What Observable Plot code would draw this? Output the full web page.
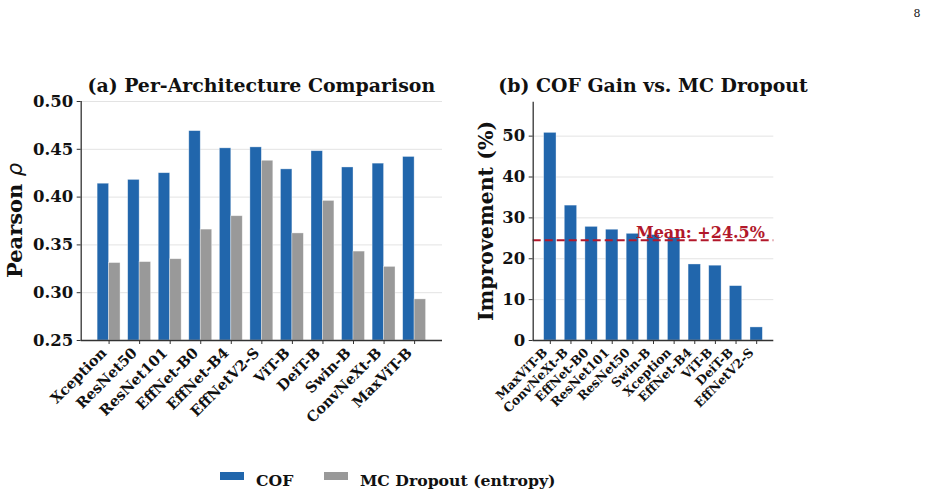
<!DOCTYPE html>
<html>
<head>
<meta charset="utf-8">
<script src="https://cdn.jsdelivr.net/npm/d3@7"></script>
<script src="https://cdn.jsdelivr.net/npm/@observablehq/plot@0.6"></script>
<style>
  body { margin: 0; background: #fff; }
  #page { position: relative; width: 930px; height: 496px; overflow: hidden; background: #fff; }
  #page > svg { position: absolute; top: 0; }
  #overlay { left: 0; pointer-events: none; }
</style>
</head>
<body>
<div id="page"></div>
<script>
// Per-architecture Pearson correlation for the two uncertainty scores
const architectures = ["Xception", "ResNet50", "ResNet101", "EffNet-B0", "EffNet-B4", "EffNetV2-S",
                       "ViT-B", "DeiT-B", "Swin-B", "ConvNeXt-B", "MaxViT-B"];
const cofPearson = [0.414, 0.418, 0.425, 0.469, 0.451, 0.452, 0.429, 0.448, 0.431, 0.435, 0.442];
const mcPearson  = [0.331, 0.332, 0.335, 0.366, 0.380, 0.438, 0.362, 0.396, 0.343, 0.327, 0.293];

// Relative gain of COF over MC Dropout, sorted from largest to smallest
const gainOrder = ["MaxViT-B", "ConvNeXt-B", "EffNet-B0", "ResNet101", "ResNet50", "Swin-B",
                   "Xception", "EffNet-B4", "ViT-B", "DeiT-B", "EffNetV2-S"];
const gainPct = [50.8, 33.0, 27.8, 27.1, 26.1, 25.8, 25.2, 18.6, 18.3, 13.3, 3.2];
const meanGain = 24.5;

const pearsonTicks = [0.25, 0.30, 0.35, 0.40, 0.45, 0.50];
const gainTicks = [0, 10, 20, 30, 40, 50];

const BLUE = "#2166ac";
const GRAY = "#999999";
const RED = "#b2182b";
const INK = "#111";
const SPINE = "#333";
const FONT = "'DejaVu Serif', serif";

const page = document.getElementById("page");

// Rotated category labels: ticks and text drawn as two axis marks so the
// text can be nudged without moving the tick lines.
function categoryAxis(names, fontSize, dx, dy) {
  const ticks = d3.range(names.length);
  return [
    Plot.axisX({ticks, tickSize: 4, text: null, stroke: SPINE, label: null}),
    Plot.axisX({ticks, tickFormat: i => names[i], tickRotate: -45, tickSize: 0, tickPadding: 6,
      fontSize, dx, dy, label: null})
  ];
}

// ---- (a) grouped bars ----
const rowsA = architectures.map((name, i) => ({i, name, cof: cofPearson[i], mc: mcPearson[i]}));
const halfW = 0.375;
const plotA = Plot.plot({
  width: 460, height: 450,
  marginLeft: 80.7, marginRight: 18, marginTop: 101, marginBottom: 110,
  style: {fontFamily: FONT, fontWeight: "bold", background: "transparent", overflow: "visible", color: INK},
  x: {domain: [-0.9125, 10.9125], label: null},
  y: {domain: [0.25, 0.50], label: null},
  marks: [
    Plot.gridY(pearsonTicks.slice(1), {stroke: "#e3e3e3", strokeOpacity: 1, strokeWidth: 1}),
    Plot.rectY(rowsA, {x1: d => d.i - halfW, x2: d => d.i, y1: 0.25, y2: "cof",
      fill: BLUE, stroke: "#fff", strokeOpacity: 0.5, strokeWidth: 0.7}),
    Plot.rectY(rowsA, {x1: d => d.i, x2: d => d.i + halfW, y1: 0.25, y2: "mc",
      fill: GRAY, stroke: "#fff", strokeOpacity: 0.5, strokeWidth: 0.7}),
    Plot.ruleX([-0.9125], {stroke: SPINE, strokeWidth: 1.3}),
    Plot.ruleY([0.25], {stroke: SPINE, strokeWidth: 1.3}),
    Plot.axisY({ticks: pearsonTicks, tickFormat: d3.format(".2f"), fontSize: 16.5,
      tickSize: 4, tickPadding: 4, stroke: SPINE, label: null}),
    ...categoryAxis(architectures, 14.5, -5, 4)
  ]
});
plotA.style.left = "0px";
page.appendChild(plotA);

// ---- (b) sorted gain bars ----
const rowsB = gainOrder.map((name, i) => ({i, name, gain: gainPct[i]}));
const plotB = Plot.plot({
  width: 470, height: 450,
  marginLeft: 72.7, marginRight: 156.7, marginTop: 101.7, marginBottom: 110,
  style: {fontFamily: FONT, fontWeight: "bold", background: "transparent", overflow: "visible", color: INK},
  x: {domain: [-0.83, 10.83], label: null},
  y: {domain: [0, 58.3], label: null},
  marks: [
    Plot.gridY(gainTicks.slice(1), {stroke: "#e3e3e3", strokeOpacity: 1, strokeWidth: 1}),
    Plot.rectY(rowsB, {x1: d => d.i - 0.3, x2: d => d.i + 0.3, y1: 0, y2: "gain",
      fill: BLUE, stroke: "#fff", strokeOpacity: 0.5, strokeWidth: 0.7}),
    Plot.ruleY([meanGain], {stroke: RED, strokeWidth: 2, strokeDasharray: "8,4"}),
    Plot.text([meanGain], {x: 10.4, y: d => d, text: d => `Mean: +${d}%`, textAnchor: "end",
      lineAnchor: "bottom", dy: -2, fill: RED, fontSize: 16, fontWeight: "bold"}),
    Plot.ruleX([-0.83], {stroke: SPINE, strokeWidth: 1.3}),
    Plot.ruleY([0], {stroke: SPINE, strokeWidth: 1.3}),
    Plot.axisY({ticks: gainTicks, fontSize: 16.5, tickSize: 4, tickPadding: 4, stroke: SPINE, label: null}),
    ...categoryAxis(gainOrder, 12.5, -5, 4)
  ]
});
plotB.style.left = "460px";
page.appendChild(plotB);

// ---- titles, axis labels, legend and page number ----
const svg = d3.select(page).append("svg").attr("id", "overlay")
  .attr("width", 930).attr("height", 496)
  .style("font-family", FONT).style("font-weight", "bold").attr("fill", INK);

svg.append("text").attr("x", 261.3).attr("y", 91.5).attr("text-anchor", "middle")
  .attr("font-size", 18.9).text("(a) Per-Architecture Comparison");
svg.append("text").attr("x", 653).attr("y", 91.5).attr("text-anchor", "middle")
  .attr("font-size", 18.9).text("(b) COF Gain vs. MC Dropout");

const ya = svg.append("text").attr("transform", "translate(22,220.5) rotate(-90)")
  .attr("text-anchor", "middle").attr("font-size", 21);
ya.append("tspan").text("Pearson ");
ya.append("tspan").attr("font-family", "'DejaVu Sans', sans-serif").attr("font-style", "italic")
  .attr("font-weight", "normal").text("ρ");

svg.append("text").attr("transform", "translate(492.5,221) rotate(-90)")
  .attr("text-anchor", "middle").attr("font-size", 20.5).text("Improvement (%)");

const legend = [{label: "COF", color: BLUE, x: 220}, {label: "MC Dropout (entropy)", color: GRAY, x: 324}];
for (const item of legend) {
  svg.append("rect").attr("x", item.x).attr("y", 472).attr("width", 24).attr("height", 8).attr("fill", item.color);
  svg.append("text").attr("x", item.x + 36).attr("y", 485.5).attr("font-size", 15.7).text(item.label);
}

svg.append("text").attr("x", 917).attr("y", 17).attr("text-anchor", "middle")
  .attr("font-size", 11).attr("font-weight", "normal").text("8");
</script>
</body>
</html>
